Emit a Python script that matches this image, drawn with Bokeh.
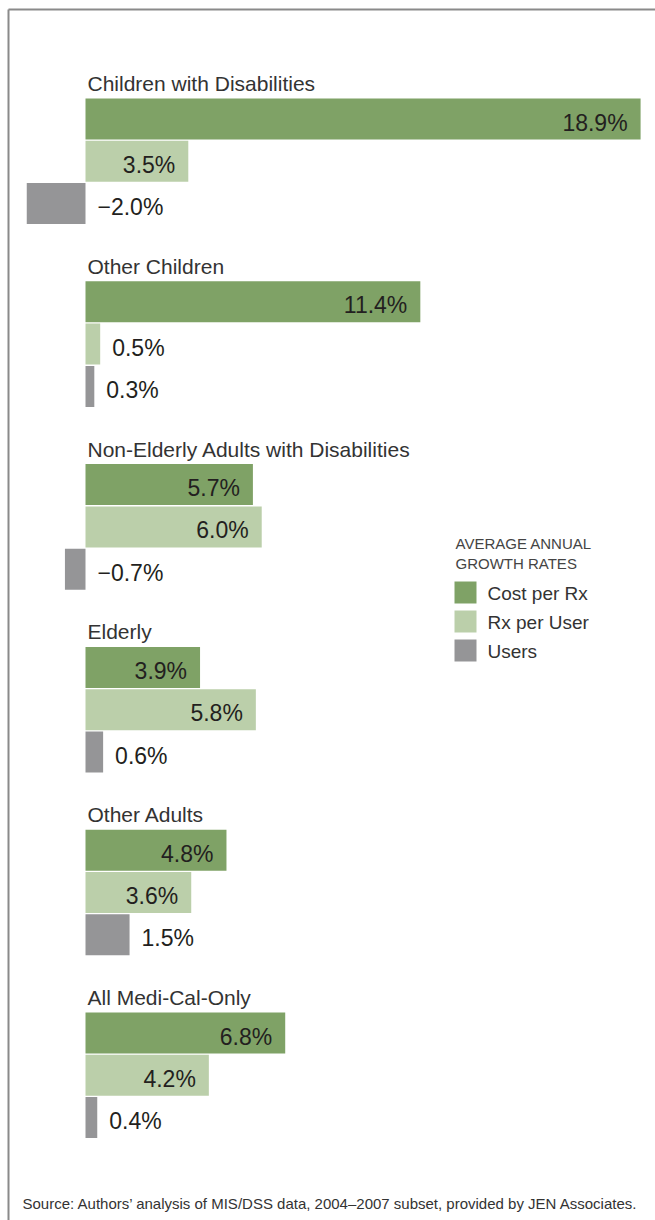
from bokeh.plotting import figure
from bokeh.models import Range1d, ColumnDataSource
from bokeh.core.properties import value
from bokeh.embed import file_html
from bokeh.resources import INLINE

# ---- data ----
groups = ["Children with Disabilities", "Other Children",
          "Non-Elderly Adults with Disabilities", "Elderly",
          "Other Adults", "All Medi-Cal-Only"]
cost_per_rx = [18.9, 11.4, 5.7, 3.9, 4.8, 6.8]
rx_per_user = [3.5, 0.5, 6.0, 5.8, 3.6, 4.2]
users = [-2.0, 0.3, -0.7, 0.6, 1.5, 0.4]
series_names = ["Cost per Rx", "Rx per User", "Users"]
series_colors = ["#7fa266", "#bbcfaa", "#959597"]
legend_title = ["AVERAGE ANNUAL", "GROWTH RATES"]
source_note = "Source: Authors\u2019 analysis of MIS/DSS data, 2004\u20132007 subset, provided by JEN Associates."

# ---- layout (styling) ----
W, H = 655, 1220
ZERO_PX = 85.0
SCALE = 29.37          # px per percentage point
GROUP_TOP = 98.0
GROUP_PITCH = 182.8
BAR_PITCH = 42.3
BAR_H = 41.0
FONT = "Liberation Sans"

def xd(px):
    return (px - ZERO_PX) / SCALE

p = figure(width=W, height=H, x_range=Range1d(xd(0), xd(W)), y_range=Range1d(H, 0),
           output_backend="svg", toolbar_location=None, min_border=0)
p.axis.visible = False
p.grid.visible = False
p.outline_line_color = None
p.background_fill_color = "white"
p.border_fill_color = "white"

# frame lines
p.segment(x0=[xd(8), xd(8)], y0=[9, 9], x1=[xd(8), xd(W + 5)], y1=[H + 5, 9],
          line_color="#8a8a8a", line_width=2)

all_series = [cost_per_rx, rx_per_user, users]
for s, (vals, color) in enumerate(zip(all_series, series_colors)):
    ys = [GROUP_TOP + GROUP_PITCH * g + BAR_PITCH * s + BAR_H / 2 for g in range(len(groups))]
    src = ColumnDataSource(dict(y=ys, right=vals, left=[0] * len(vals)))
    p.hbar(y="y", left="left", right="right", height=BAR_H, source=src,
           fill_color=color, line_color=None)
    # value labels
    lx, ly, lt, la = [], [], [], []
    for v, yv in zip(vals, ys):
        txt = ("\u2212%.1f%%" % abs(v)) if v < 0 else ("%.1f%%" % v)
        if v >= 2.5:
            lx.append(v - 13 / SCALE); la.append("right")
        else:
            lx.append(max(v, 0) + 12 / SCALE); la.append("left")
        ly.append(yv + 3.5); lt.append(txt)
    p.text(x=lx, y=ly, text=lt, text_align=la, text_baseline="middle",
           text_font=value(FONT), text_font_size="23px", text_color="#231f20")

# group labels
gy = [GROUP_TOP + GROUP_PITCH * g - 15 for g in range(len(groups))]
p.text(x=[xd(87)] * len(groups), y=gy, text=groups, text_baseline="middle",
       text_font=value(FONT), text_font_size="21px", text_color="#333333")

# legend
p.text(x=[xd(455)] * 2, y=[543, 563], text=legend_title, text_baseline="middle",
       text_font=value(FONT), text_font_size="15px", text_color="#444444")
leg_y = [592, 621, 650]
p.rect(x=[xd(465)] * 3, y=leg_y, width=22, height=22, width_units="screen",
       height_units="screen", fill_color=series_colors, line_color=None)
p.text(x=[xd(487)] * 3, y=[yy + 1 for yy in leg_y], text=series_names, text_baseline="middle",
       text_font=value(FONT), text_font_size="19px", text_color="#333333")

# source
p.text(x=[xd(22)], y=[1203], text=[source_note], text_baseline="middle",
       text_font=value(FONT), text_font_size="15px", text_color="#333333")

open("out.html", "w").write(file_html(p, INLINE))
